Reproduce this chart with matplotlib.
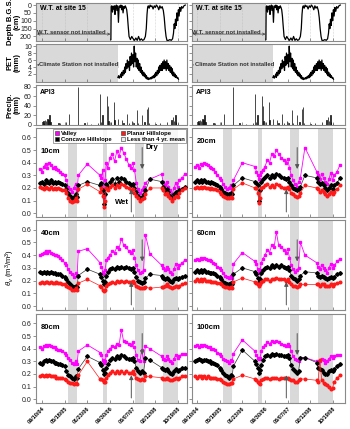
import matplotlib
matplotlib.use('Agg')
import matplotlib.pyplot as plt
import matplotlib.dates as mdates
from matplotlib.lines import Line2D
import numpy as np
import pandas as pd

plt.rcParams['font.family'] = ['Liberation Sans', 'DejaVu Sans']
plt.rcParams['mathtext.fontset'] = 'custom'
plt.rcParams['mathtext.rm'] = 'Liberation Sans'
plt.rcParams['mathtext.it'] = 'Liberation Sans:italic'

# ---------------- data (days counted from 2004-09-10) ----------------
START = '2004-09-10'
tick_days = [0, 250, 500, 750, 1000, 1250, 1500]
tick_labels = ['09/10/04', '05/18/05', '01/23/06', '09/30/06', '06/07/07', '02/12/08', '10/19/08']

band_start = [286, 672, 1024, 1333]
band_end = [385, 716, 1123, 1498]

sample_day = [-20, 0, 20, 40, 60, 80, 100, 120, 140, 160, 180, 200, 225, 250,
              270, 290, 310, 330, 350, 370, 388, 400, 500, 640,
              655, 670, 685, 695, 710, 725, 750, 775, 800, 825, 850, 875, 900, 930, 960,
              980, 1000, 1020, 1040, 1060, 1080, 1100, 1120, 1140, 1190, 1320,
              1335, 1355, 1375, 1395, 1415, 1435, 1455, 1475, 1495, 1515, 1545, 1575]

valley_10 = [.35, .33, .37, .39, .36, .40, .38, .36, .37, .35, .34, .33, .31, .30,
             .26, .21, .19, .17, .20, .23, .18, .30, .39, .30,
             .28, .34, .13, .26, .40, .36, .44, .47, .41, .49, .45, .52, .48, .43, .38,
             .36, .40, .34, .24, .19, .16, .18, .21, .24, .27, .31,
             .25, .22, .25, .21, .18, .15, .20, .24, .21, .26, .28, .31]
concave_10 = [.24, .25, .23, .26, .25, .24, .26, .24, .25, .24, .25, .24, .23, .22,
              .19, .16, .14, .12, .13, .15, .13, .22, .25, .22,
              .24, .18, .07, .15, .23, .21, .25, .27, .23, .28, .25, .28, .27, .25, .24,
              .22, .23, .20, .17, .14, .12, .13, .15, .18, .27, .25,
              .21, .18, .19, .17, .14, .12, .15, .17, .16, .18, .19, .21]
planar_10 = [.21, .20, .19, .21, .20, .19, .21, .19, .20, .19, .20, .19, .18, .18,
             .16, .12, .10, .09, .10, .12, .10, .19, .23, .17,
             .20, .14, .05, .10, .20, .18, .21, .22, .20, .22, .21, .23, .22, .21, .20,
             .18, .19, .16, .14, .12, .10, .11, .12, .15, .20, .20,
             .18, .15, .16, .14, .12, .10, .12, .14, .13, .16, .18, .20]

valley_20 = [.37, .38, .36, .39, .38, .40, .39, .38, .37, .36, .35, .33, .30, .28,
             .26, .23, .21, .19, .20, .22, .19, .26, .40, .37,
             .33, .30, .27, .30, .33, .34, .37, .42, .40, .47, .45, .50, .47, .44, .42,
             .40, .43, .36, .30, .26, .23, .21, .25, .28, .52, .33,
             .30, .27, .31, .28, .25, .23, .27, .32, .26, .30, .33, .38]
concave_20 = [.25, .26, .25, .26, .25, .26, .25, .25, .24, .25, .24, .23, .22, .21,
              .19, .17, .16, .15, .15, .16, .15, .22, .28, .25,
              .24, .22, .10, .18, .25, .27, .29, .30, .28, .30, .29, .31, .30, .29, .28,
              .27, .28, .25, .22, .20, .19, .18, .19, .21, .30, .28,
              .25, .23, .24, .22, .20, .18, .20, .22, .19, .22, .24, .28]
planar_20 = [.20, .21, .20, .21, .20, .21, .20, .20, .19, .20, .19, .19, .18, .17,
             .15, .14, .13, .12, .12, .13, .12, .19, .24, .20,
             .20, .16, .08, .12, .20, .21, .22, .23, .21, .22, .21, .23, .22, .21, .20,
             .20, .21, .19, .16, .15, .14, .13, .14, .16, .22, .20,
             .19, .17, .18, .17, .15, .14, .15, .17, .15, .17, .19, .22]

valley_40 = [.40, .41, .42, .43, .42, .43, .42, .41, .40, .40, .39, .38, .36, .34,
             .32, .29, .27, .25, .23, .26, .24, .43, .45, .34,
             .31, .27, .25, .28, .36, .38, .40, .43, .42, .46, .45, .53, .48, .46, .43,
             .42, .44, .38, .32, .28, .26, .27, .28, .56, .41, .32,
             .30, .28, .31, .29, .27, .25, .29, .33, .30, .32, .34, .36]
concave_40 = [.27, .26, .27, .26, .27, .26, .27, .26, .26, .25, .25, .25, .24, .23,
              .21, .19, .17, .16, .15, .16, .15, .24, .29, .25,
              .23, .20, .17, .19, .24, .27, .29, .30, .29, .31, .30, .31, .30, .31, .30,
              .29, .30, .27, .23, .20, .19, .18, .19, .22, .25, .24,
              .22, .21, .22, .21, .20, .19, .21, .22, .21, .22, .23, .24]
planar_40 = [.18, .19, .18, .19, .19, .18, .19, .18, .18, .19, .18, .18, .17, .17,
             .16, .15, .14, .13, .13, .14, .13, .18, .21, .16,
             .15, .13, .12, .13, .16, .17, .18, .19, .18, .20, .19, .20, .19, .20, .19,
             .19, .20, .18, .16, .15, .14, .14, .14, .15, .14, .15,
             .15, .16, .17, .16, .15, .14, .15, .16, .15, .16, .17, .18]

valley_60 = [.36, .37, .36, .38, .37, .38, .37, .36, .36, .35, .34, .33, .31, .30,
             .28, .26, .24, .23, .22, .24, .22, .33, .42, .35,
             .33, .29, .26, .28, .34, .37, .40, .44, .42, .48, .46, .58, .48, .46, .44,
             .42, .45, .38, .32, .29, .27, .28, .30, .50, .40, .34,
             .31, .29, .32, .30, .28, .26, .30, .33, .30, .32, .35, .37]
concave_60 = [.27, .28, .27, .28, .27, .28, .27, .27, .26, .26, .26, .25, .24, .23,
              .21, .19, .18, .17, .17, .18, .17, .25, .30, .27,
              .25, .22, .19, .21, .26, .28, .30, .31, .30, .32, .31, .32, .31, .32, .31,
              .30, .31, .28, .24, .22, .21, .20, .21, .24, .27, .26,
              .24, .23, .24, .23, .22, .21, .22, .23, .22, .23, .25, .26]
planar_60 = [.20, .21, .20, .21, .20, .21, .20, .20, .20, .19, .19, .19, .18, .18,
             .17, .16, .15, .15, .14, .15, .14, .19, .22, .19,
             .18, .17, .16, .17, .19, .20, .21, .21, .20, .21, .21, .22, .21, .21, .21,
             .20, .21, .19, .17, .16, .16, .15, .16, .17, .17, .17,
             .17, .16, .17, .17, .16, .16, .16, .17, .16, .17, .18, .19]

valley_80 = [.41, .40, .42, .43, .42, .43, .42, .41, .41, .40, .39, .39, .38, .37,
             .35, .33, .31, .29, .28, .30, .28, .38, .43, .37,
             .35, .31, .29, .30, .35, .38, .40, .42, .41, .44, .43, .55, .46, .45, .44,
             .43, .45, .41, .35, .31, .30, .39, .30, .42, .40, .34,
             .32, .31, .34, .32, .30, .29, .32, .35, .33, .34, .36, .36]
concave_80 = [.29, .28, .30, .31, .30, .31, .30, .30, .29, .29, .28, .28, .27, .26,
              .22, .19, .18, .17, .16, .18, .17, .24, .34, .29,
              .27, .23, .20, .21, .25, .28, .31, .33, .32, .34, .33, .35, .34, .33, .32,
              .32, .33, .30, .25, .22, .21, .22, .21, .33, .31, .25,
              .24, .23, .24, .22, .21, .20, .22, .24, .22, .23, .25, .25]
planar_80 = [.18, .19, .18, .19, .18, .19, .18, .18, .18, .17, .17, .17, .17, .16,
             .15, .14, .13, .13, .12, .13, .12, .19, .30, .16,
             .16, .15, .14, .14, .17, .19, .21, .22, .21, .22, .21, .22, .21, .22, .21,
             .21, .22, .20, .17, .16, .15, .16, .15, .18, .18, .17,
             .16, .16, .17, .16, .15, .15, .16, .17, .16, .17, .18, .18]

valley_100 = [.42, .43, .41, .43, .42, .43, .42, .41, .41, .40, .40, .39, .37, .36,
              .34, .32, .31, .30, .29, .31, .30, .36, .47, .38,
              .35, .33, .32, .33, .38, .41, .43, .45, .44, .46, .45, .46, .45, .44, .43,
              .42, .44, .42, .38, .34, .32, .31, .30, .33, .33, .30,
              .29, .30, .32, .31, .29, .30, .32, .34, .33, .34, .35, .35]
concave_100 = [.30, .31, .32, .31, .30, .31, .31, .30, .30, .29, .29, .28, .27, .25,
               .23, .21, .19, .18, .17, .19, .18, .26, .39, .30,
               .28, .25, .21, .23, .27, .31, .34, .35, .34, .36, .35, .36, .35, .35, .34,
               .34, .35, .33, .27, .24, .22, .21, .22, .33, .33, .29,
               .25, .24, .23, .21, .20, .20, .22, .23, .22, .24, .26, .28]
planar_100 = [.18, .17, .18, .18, .17, .18, .17, .18, .17, .17, .17, .17, .16, .16,
              .15, .14, .13, .12, .12, .13, .13, .16, .19, .16,
              .15, .14, .13, .12, .15, .16, .17, .17, .16, .17, .17, .17, .16, .17, .17,
              .17, .17, .16, .15, .15, .14, .14, .15, .16, .16, .15,
              .14, .31, .15, .13, .12, .11, .10, .08, .09, .14, .17, .19]

wt_day = [760, 763, 770, 778, 785, 790, 798, 805, 812, 820, 826, 835, 843, 850, 856, 862, 870, 878,
          886, 894, 902, 910, 918, 926, 934, 942, 950, 960, 975, 990, 1005, 1020, 1035, 1050, 1065,
          1080, 1095, 1110, 1125, 1140, 1150, 1158, 1165, 1172, 1182, 1192, 1202, 1212, 1225, 1238,
          1250, 1262, 1275, 1288, 1300, 1312, 1325, 1338, 1348, 1358, 1368, 1378, 1395, 1410, 1425,
          1440, 1450, 1458, 1465, 1472, 1480, 1488, 1496, 1504, 1512, 1520, 1530, 1540, 1552, 1565, 1580]
wt_depth = [220, 10, 5, 45, 8, 25, 5, 60, 12, 0, 35, 5, 110, 20, 5, 15, 0, 30,
            5, 50, 10, 20, 5, 15, 30, 70, 130, 200, 220, 200, 215, 225, 210, 225, 200,
            225, 215, 225, 220, 200, 150, 60, 15, 5, 20, 0, 10, 5, 25, 5,
            15, 0, 10, 30, 5, 20, 10, 35, 80, 150, 200, 225, 225, 220, 225,
            215, 180, 120, 150, 90, 130, 50, 100, 30, 70, 15, 40, 10, 20, 5, 0]
wt_installed = 760

pet_day = [837, 845, 852, 860, 868, 875, 882, 890, 897, 905, 912, 920, 927, 935, 942, 950, 957, 965,
           972, 980, 987, 995, 1002, 1010, 1017, 1025, 1032, 1040, 1047, 1055, 1062, 1070, 1077,
           1085, 1092, 1100, 1107, 1115, 1122, 1130, 1137, 1145, 1152, 1160, 1167, 1175, 1182, 1190,
           1197, 1205, 1212, 1220, 1227, 1235, 1242, 1250, 1257, 1265, 1272, 1280, 1287, 1295, 1302,
           1310, 1317, 1325, 1332, 1340, 1347, 1355, 1362, 1370, 1377, 1385, 1392, 1400, 1407, 1415,
           1422, 1430, 1437, 1445, 1452, 1460, 1467, 1475, 1482, 1490, 1497, 1505]
pet_mm = [1.0, 1.5, 0.8, 1.2, 2.0, 1.0, 2.5, 1.5, 3.0, 2.0, 4.0, 2.5, 5.0, 3.5, 6.0, 4.0, 5.5, 3.0,
          7.0, 4.5, 8.0, 5.0, 7.5, 4.0, 10.0, 5.5, 8.0, 4.0, 6.5, 3.5, 6.0, 3.0, 5.0, 2.5, 4.0, 2.0,
          3.0, 1.5, 2.5, 1.2, 2.0, 0.8, 1.5, 0.5, 1.0, 0.4, 0.8, 0.5, 1.0, 0.6, 1.2, 0.8, 1.5, 0.9,
          2.0, 1.2, 2.5, 1.5, 3.0, 2.0, 4.0, 2.5, 4.5, 3.0, 5.0, 3.0, 5.5, 3.5, 6.0, 3.5, 5.5, 3.0,
          6.0, 3.5, 5.0, 3.0, 4.5, 2.5, 4.0, 2.0, 3.5, 1.5, 2.5, 1.2, 2.0, 1.0, 1.5, 0.8, 1.0, 0.5]
climate_installed = 837

precip_day = [8, 15, 22, 35, 45, 60, 70, 85, 92, 180, 200, 265, 300, 396, 470, 540, 620, 640, 650, 670,
              716, 727, 735, 760, 793, 800, 837, 881, 900, 936, 960, 991, 1010, 1046, 1060, 1101, 1130,
              1156, 1167, 1180, 1250, 1300, 1380, 1430, 1445, 1455, 1470, 1480, 1500]
precip_mm = [5, 8, 4, 10, 7, 12, 9, 20, 6, 3, 4, 6, 22, 80, 3, 2, 4, 65, 5, 20,
             60, 40, 8, 6, 47, 10, 12, 10, 4, 22, 3, 8, 4, 30, 3, 20, 5,
             32, 38, 4, 2, 3, 5, 10, 15, 8, 20, 6, 3]

dry_day, wet_day = 1105, 985

# ---------------- helpers ----------------
T0 = mdates.date2num(pd.Timestamp(START).to_pydatetime())
def dn(days):
    return T0 + np.asarray(days, dtype=float)

W, H = 350, 429
fig = plt.figure(figsize=(W / 100, H / 100), dpi=100)

def add_ax(x0, x1, y0, y1):
    return fig.add_axes([x0 / W, 1 - y1 / H, (x1 - x0) / W, (y1 - y0) / H])

cols = {'L': (36, 187), 'R': (192, 345)}
xlims = {'L': (-66, 1599), 'R': (-55, 1632)}
rows = {'wt': (3, 41), 'pet': (44, 82), 'pre': (85, 125),
        's1': (128, 217), 's2': (220, 310), 's3': (314, 403)}

SPINE = '#8a8a8a'
BAND = '#d9d9d9'

def style(ax, c, ylabels=True):
    for s in ax.spines.values():
        s.set_color(SPINE)
        s.set_linewidth(0.8)
    ax.set_xlim(*dn(xlims[c]))
    ax.set_xticks(dn(tick_days))
    ax.set_xticklabels([])
    ax.tick_params(axis='x', direction='in', length=2, width=0.5, color='#666')
    ax.tick_params(axis='y', direction='out', length=2, width=0.5, color='#666',
                   labelsize=5, labelcolor='#222', pad=1)
    if not ylabels:
        ax.set_yticklabels([])

for c in ['L', 'R']:
    x0, x1 = cols[c]
    lab = (c == 'L')
    # ---- water table ----
    ax = add_ax(x0, x1, *rows['wt'])
    style(ax, c, lab)
    ax.axvspan(dn(xlims[c][0]), dn(wt_installed), color=BAND, zorder=0, lw=0)
    for d in tick_days:
        ax.axvline(dn(d), color='#b0b0b0', lw=0.4, ls=':', zorder=0.5)
    ax.plot(dn(wt_day), wt_depth, color='black', lw=0.9)
    ax.set_ylim(229, -13)
    ax.set_yticks([0, 50, 100, 150, 200])
    if not lab:
        ax.set_yticklabels([])
    ax.text(0.025, 0.86, 'W.T. at site 15', transform=ax.transAxes, fontsize=5,
            fontweight='bold', va='center', ha='left')
    ax.annotate('', xy=(dn(xlims[c][0] + 10), 185), xytext=(dn(wt_installed - 5), 185),
                arrowprops=dict(arrowstyle='<->', lw=0.5, color='#444', mutation_scale=4,
                                shrinkA=0, shrinkB=0))
    ax.text(dn((xlims[c][0] + wt_installed) / 2 - 25), 176, 'W.T. sensor not installed',
            fontsize=4.2, fontweight='bold', ha='center', va='center', color='#333')

    # ---- PET ----
    ax = add_ax(x0, x1, *rows['pet'])
    style(ax, c, lab)
    ax.axvspan(dn(xlims[c][0]), dn(climate_installed), color=BAND, zorder=0, lw=0)
    ax.plot(dn(pet_day), pet_mm, color='black', lw=0.9)
    ax.set_ylim(-0.3, 10.6)
    ax.set_yticks([2, 4, 6, 8, 10])
    if not lab:
        ax.set_yticklabels([])
    ax.annotate('', xy=(dn(xlims[c][0] + 10), 4.6), xytext=(dn(climate_installed - 5), 4.6),
                arrowprops=dict(arrowstyle='<->', lw=0.5, color='#444', mutation_scale=4,
                                shrinkA=0, shrinkB=0))
    ax.text(dn((xlims[c][0] + climate_installed) / 2 + 20), 4.6, 'Climate Station not installed',
            fontsize=4.2, fontweight='bold', ha='center', va='center', color='#333',
            bbox=dict(facecolor=BAND, edgecolor='none', pad=0.3))

    # ---- precipitation ----
    ax = add_ax(x0, x1, *rows['pre'])
    style(ax, c, lab)
    ax.bar(dn(precip_day), precip_mm, width=6, color='#666666', edgecolor='black', lw=0.5)
    ax.set_ylim(-1, 84)
    ax.set_yticks([0, 20, 40, 60, 80])
    if not lab:
        ax.set_yticklabels([])
    ax.text(0.025, 0.82, 'API3', transform=ax.transAxes, fontsize=5,
            fontweight='bold', va='center', ha='left')

soil = {
    ('L', 's1'): ('10cm', valley_10, concave_10, planar_10),
    ('R', 's1'): ('20cm', valley_20, concave_20, planar_20),
    ('L', 's2'): ('40cm', valley_40, concave_40, planar_40),
    ('R', 's2'): ('60cm', valley_60, concave_60, planar_60),
    ('L', 's3'): ('80cm', valley_80, concave_80, planar_80),
    ('R', 's3'): ('100cm', valley_100, concave_100, planar_100),
}

MAG, RED = '#ff00ff', '#ff1a1a'
for (c, r), (name, v, k, p) in soil.items():
    x0, x1 = cols[c]
    ax = add_ax(x0, x1, *rows[r])
    style(ax, c, c == 'L')
    for a, b in zip(band_start, band_end):
        ax.axvspan(dn(a), dn(b), color=BAND, zorder=0, lw=0)
    t = dn(sample_day)
    ax.plot(t, v, color=MAG, lw=0.6, marker='s', ms=2.0, mec=MAG, zorder=3)
    ax.plot(t, k, color='#333333', lw=0.5, marker='D', ms=1.9, mfc='black', mec='black', zorder=4)
    ax.plot(t, p, color=RED, lw=0.5, marker='o', ms=1.9, mec=RED, zorder=5)
    ax.set_ylim(-0.03, 0.675)
    ax.set_yticks([0.0, 0.1, 0.2, 0.3, 0.4, 0.5, 0.6])
    if c == 'L':
        ax.set_yticklabels(['0.0', '0.1', '0.2', '0.3', '0.4', '0.5', '0.6'])
    else:
        ax.set_yticklabels([])
    ty = 0.74 if name == '10cm' else 0.85
    ax.text(0.03, ty, name, transform=ax.transAxes, fontsize=5.5, fontweight='bold',
            ha='left', va='center')
    arrow = dict(arrowstyle='-|>', lw=0.7, color='#555555', mutation_scale=6,
                 shrinkA=0, shrinkB=0)
    ax.annotate('', xy=(dn(dry_day), 0.35), xytext=(dn(dry_day), 0.52), arrowprops=arrow, zorder=6)
    ax.annotate('', xy=(dn(wet_day), 0.19), xytext=(dn(wet_day), 0.01), arrowprops=arrow, zorder=6)
    if name == '10cm':
        ax.text(dn(dry_day + 40), 0.52, 'Dry', fontsize=5.5, fontweight='bold', ha='left', va='center',
                zorder=12)
        ax.text(dn(wet_day - 25), 0.085, 'Wet', fontsize=5.5, fontweight='bold', ha='right', va='center')
        handles = [Line2D([], [], ls='none', marker='s', ms=3.5, mfc=MAG, mec='#333', mew=0.4),
                   Line2D([], [], ls='none', marker='s', ms=3.5, mfc='black', mec='#333', mew=0.4),
                   Line2D([], [], ls='none', marker='s', ms=3.5, mfc=RED, mec='#333', mew=0.4),
                   Line2D([], [], ls='none', marker='s', ms=3.5, mfc='#eeeeee', mec='#333', mew=0.4)]
        labels = ['Valley', 'Concave Hillslope', 'Planar Hillslope', 'Less than 4 yr. mean']
        leg = ax.legend(handles, labels, ncol=2, loc='upper right', bbox_to_anchor=(0.995, 0.985),
                        prop={'weight': 'bold', 'size': 4.2}, frameon=True,
                        fancybox=False, borderpad=0.25, labelspacing=0.1, handlelength=0.8,
                        handletextpad=0.3, columnspacing=1.5, borderaxespad=0)
        leg.get_frame().set_edgecolor('#777')
        leg.get_frame().set_linewidth(0.6)
        leg.set_zorder(10)
    if r == 's3':
        ax.set_xticklabels(tick_labels, rotation=45, ha='right', rotation_mode='anchor',
                           fontsize=4, fontweight='bold')
        ax.tick_params(axis='x', pad=2)

# y labels
fig.text(14 / W, 1 - 22 / H, 'Depth B.G.S.\n(cm)', rotation=90, ha='center', va='center',
         fontsize=5.5, fontweight='bold', linespacing=1.0, multialignment='center')
fig.text(14 / W, 1 - 63 / H, 'PET\n(mm)', rotation=90, ha='center', va='center',
         fontsize=5.5, fontweight='bold', linespacing=1.0, multialignment='center')
fig.text(14 / W, 1 - 105 / H, 'Precip.\n(mm)', rotation=90, ha='center', va='center',
         fontsize=5.5, fontweight='bold', linespacing=1.0, multialignment='center')
fig.text(10 / W, 1 - 267 / H, r'$\theta_v$ (m$^3$/m$^3$)', rotation=90, ha='center', va='center',
         fontsize=5.5)

fig.savefig('out.png', dpi=100)
